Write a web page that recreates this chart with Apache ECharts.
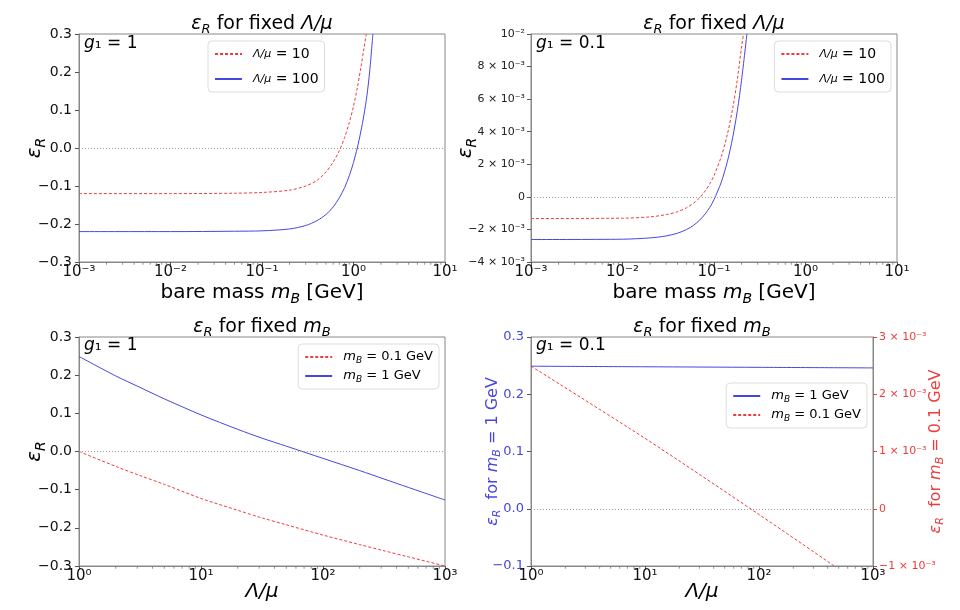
<!DOCTYPE html>
<html>
<head>
<meta charset="utf-8">
<script src="https://cdn.jsdelivr.net/npm/echarts@6/dist/echarts.min.js"></script>
<style>
  html, body { margin: 0; padding: 0; background: #fff; }
  #chart { width: 960px; height: 610px; }
</style>
</head>
<body>
<div id="chart"></div>
<script>
// top-left: g1 = 1, epsilon_R vs bare mass
var massRed1 = [0.001, 0.01, 0.05, 0.1, 0.2, 0.3, 0.4, 0.5, 0.6, 0.7, 0.8, 0.9, 1.0, 1.1, 1.2, 1.3, 1.38];
var epsRed1 = [-0.120, -0.120, -0.119, -0.117, -0.111, -0.100, -0.085, -0.063, -0.037, -0.007, 0.028, 0.067, 0.110, 0.158, 0.210, 0.262, 0.300];
var massBlue1 = [0.001, 0.01, 0.05, 0.1, 0.2, 0.3, 0.4, 0.5, 0.6, 0.7, 0.8, 0.9, 1.0, 1.1, 1.2, 1.3, 1.4, 1.5, 1.63];
var epsBlue1 = [-0.220, -0.220, -0.219, -0.218, -0.213, -0.204, -0.191, -0.175, -0.155, -0.131, -0.104, -0.073, -0.038, 0.000, 0.042, 0.087, 0.137, 0.200, 0.300];

// top-right: g1 = 0.1 (values in 1e-3)
var massRed2 = [0.001, 0.01, 0.02, 0.03, 0.04, 0.05, 0.06, 0.07, 0.08, 0.09, 0.1, 0.12, 0.14, 0.16, 0.18, 0.2, 0.21];
var epsRed2 = [-1.33, -1.31, -1.23, -1.09, -0.91, -0.67, -0.38, -0.04, 0.36, 0.81, 1.31, 2.47, 3.84, 5.43, 7.22, 9.2, 10.0];
var massBlue2 = [0.001, 0.01, 0.02, 0.03, 0.04, 0.05, 0.06, 0.07, 0.08, 0.09, 0.1, 0.12, 0.14, 0.16, 0.18, 0.2, 0.229];
var epsBlue2 = [-2.62, -2.60, -2.52, -2.40, -2.23, -2.01, -1.74, -1.42, -1.05, -0.64, -0.17, 0.90, 2.17, 3.64, 5.30, 7.16, 10.0];

// bottom-left: g1 = 1, epsilon_R vs Lambda/mu
var ratio3 = [1, 2, 3.16, 5, 10, 20, 31.6, 50, 100, 200, 316, 500, 1000];
var epsRed3 = [0.000, -0.039, -0.063, -0.086, -0.123, -0.154, -0.174, -0.192, -0.219, -0.244, -0.260, -0.276, -0.300];
var epsBlue3 = [0.249, 0.198, 0.168, 0.138, 0.096, 0.058, 0.035, 0.014, -0.018, -0.050, -0.072, -0.094, -0.127];

// bottom-right: g1 = 0.1 (red values in 1e-3)
var ratioBlue4 = [1, 10, 100, 1000];
var epsBlue4 = [0.249, 0.248, 0.247, 0.246];
var ratioRed4 = [1, 10, 100, 457];
var epsRed4 = [2.49, 1.23, -0.10, -1.00];

var FONT = 'DejaVu Sans';
var RED = '#ee3c3c';
var BLUE = '#4646e0';
var SUP = {'-': '⁻', '0': '⁰', '1': '¹', '2': '²', '3': '³'};

function zip(xs, ys, scale) {
    return xs.map(function(x, i){ return [x, ys[i] * (scale || 1)]; });
}

function powLabel(v) {
    var k = Math.round(Math.log10(v));
    return '10' + String(k).split('').map(function(c){ return SUP[c]; }).join('');
}

function decLabel(v) {
    return (Math.round(v * 10) / 10).toFixed(1).replace('-', '−');
}

function sciLabel(v) {
    var k = Math.round(v * 1000);
    if (k === 0) return '0';
    if (k === 10) return '10⁻²';
    return (k < 0 ? '−' : '') + Math.abs(k) + ' × 10⁻³';
}

function rich(size, color, lh) {
    color = color || '#000';
    return {
        i: {fontStyle: 'italic', fontSize: size, color: color, fill: color, fontFamily: FONT, lineHeight: lh || Math.round(size * 1.3), verticalAlign: 'middle'},
        f: {fontStyle: 'italic', fontSize: Math.round(size * 0.8), color: color, fill: color, fontFamily: FONT, lineHeight: lh || Math.round(size * 1.3), verticalAlign: 'middle'},
        s: {fontStyle: 'italic', fontSize: Math.round(size * 0.68), color: color, fill: color, fontFamily: FONT, lineHeight: Math.round(size * 0.7), verticalAlign: 'bottom'}
    };
}

// minor log ticks (2..9 per decade)
function minorTicks(lo, hi, y) {
    var out = [];
    for (var e = lo; e < hi; e++) {
        for (var m = 2; m <= 9; m++) out.push([m * Math.pow(10, e), y]);
    }
    return out;
}

function grid(left, top, width, height) {
    return {left: left, top: top, width: width, height: height, show: true, borderColor: '#888', borderWidth: 1, backgroundColor: 'transparent'};
}

var grids = [
    grid(79, 34, 366, 228),
    grid(531, 34, 366, 228),
    grid(79, 337, 366, 229),
    grid(531, 337, 342, 229)
];

function xLog(gi, min, max, name, nameGap) {
    return {
        type: 'log', gridIndex: gi, min: min, max: max, logBase: 10,
        name: name, nameLocation: 'middle', nameGap: nameGap, nameMoveOverlap: false,
        nameTextStyle: {fontFamily: FONT, fontSize: 20, color: '#000', rich: rich(20)},
        axisLine: {onZero: false, lineStyle: {color: '#888'}},
        axisTick: {length: 4, lineStyle: {color: '#555'}},
        axisLabel: {formatter: powLabel, fontFamily: FONT, fontSize: 15, color: '#111', margin: 3},
        splitLine: {show: false}
    };
}

function yLin(gi, min, max, interval, fmt, extra) {
    var ax = {
        type: 'value', gridIndex: gi, min: min, max: max, interval: interval,
        nameLocation: 'middle', nameRotate: 90, nameMoveOverlap: false,
        axisLine: {show: true, onZero: false, lineStyle: {color: '#888'}},
        axisTick: {show: true, length: 4, lineStyle: {color: '#555'}},
        axisLabel: {formatter: fmt, fontFamily: FONT, fontSize: 14, color: '#111', margin: 7},
        splitLine: {show: false}
    };
    for (var k in extra) ax[k] = extra[k];
    return ax;
}

var zeroLine = {
    silent: true, symbol: 'none', animation: false,
    label: {show: false},
    lineStyle: {type: [1, 2], color: '#999', width: 1},
    emphasis: {disabled: true},
    data: [{yAxis: 0}]
};

function lineSeries(name, xi, yi, data, color, dashed, mark) {
    var s = {
        name: name, type: 'line', xAxisIndex: xi, yAxisIndex: yi,
        data: data, showSymbol: false, symbol: 'none', smooth: 0.3,
        lineStyle: {color: color, width: 1, type: dashed ? [3, 2] : 'solid'},
        itemStyle: {color: color}
    };
    if (mark) s.markLine = zeroLine;
    return s;
}

function tickSeries(xi, yi, data) {
    return {
        type: 'scatter', xAxisIndex: xi, yAxisIndex: yi, data: data, silent: true, clip: false,
        symbol: 'rect', symbolSize: [1, 2.5], symbolOffset: [0, 1.5],
        itemStyle: {color: '#777'}, tooltip: {show: false}
    };
}

var legendNames = {
    r10a: '{f|Λ/μ} = 10', b100a: '{f|Λ/μ} = 100',
    r10b: '{f|Λ/μ} = 10', b100b: '{f|Λ/μ} = 100',
    r01c: '{i|m}{s|B} = 0.1 GeV', b1c: '{i|m}{s|B} = 1 GeV',
    b1d: '{i|m}{s|B} = 1 GeV', r01d: '{i|m}{s|B} = 0.1 GeV'
};

function legend(names, pos, gap, size) {
    var l = {
        data: names, orient: 'vertical',
        itemWidth: 27, itemHeight: 10, itemGap: gap,
        padding: [5, 6, 5, 6],
        backgroundColor: '#fff', borderColor: '#ddd', borderWidth: 1, borderRadius: 4,
        selectedMode: false,
        itemStyle: {opacity: 0, borderWidth: 0},
        formatter: function(n){ return legendNames[n]; },
        textStyle: {fontFamily: FONT, fontSize: size, color: '#000', lineHeight: 16, padding: [0, 0, 0, 6], rich: rich(size, '#000', 16)}
    };
    for (var k in pos) l[k] = pos[k];
    return l;
}

function gText(x, y, text, size, align) {
    return {
        type: 'text', x: x, y: y, silent: true,
        style: {text: text, fill: '#000', fontFamily: FONT, fontSize: size, align: align || 'center', verticalAlign: 'middle', rich: rich(size)}
    };
}

var option = {
    animation: false,
    backgroundColor: '#fff',
    textStyle: {fontFamily: FONT},
    grid: grids,
    xAxis: [
        xLog(0, 0.001, 10, 'bare mass {i|m}{s|B} [GeV]', 18),
        xLog(1, 0.001, 10, 'bare mass {i|m}{s|B} [GeV]', 18),
        xLog(2, 1, 1000, '{i|Λ/μ}', 13),
        xLog(3, 1, 1000, '{i|Λ/μ}', 13)
    ],
    yAxis: [
        yLin(0, -0.3, 0.3, 0.1, decLabel, {name: '{i|ε}{s|R}', nameGap: 31,
            nameTextStyle: {fontSize: 20, rich: rich(20)}}),
        yLin(1, -0.004, 0.01, 0.002, sciLabel, {name: '{i|ε}{s|R}', nameGap: 52,
            nameTextStyle: {fontSize: 20, rich: rich(20)},
            axisLabel: {formatter: sciLabel, fontFamily: FONT, fontSize: 11, color: '#222', margin: 6}}),
        yLin(2, -0.3, 0.3, 0.1, decLabel, {name: '{i|ε}{s|R}', nameGap: 31,
            nameTextStyle: {fontSize: 20, rich: rich(20)}}),
        yLin(3, -0.1, 0.3, 0.1, decLabel, {name: '{i|ε}{s|R}  for {i|m}{s|B} = 1 GeV', nameGap: 28,
            nameTextStyle: {fontSize: 16, color: BLUE, rich: rich(16, BLUE)},
            axisLabel: {formatter: decLabel, fontFamily: FONT, fontSize: 13, color: BLUE, margin: 7}}),
        yLin(3, -0.001, 0.003, 0.001, sciLabel, {position: 'right', name: '{i|ε}{s|R}  for {i|m}{s|B} = 0.1 GeV', nameGap: 52,
            nameTextStyle: {fontSize: 16, color: RED, rich: rich(16, RED)},
            axisTick: {show: true, length: 4, lineStyle: {color: RED}},
            axisLabel: {formatter: sciLabel, fontFamily: FONT, fontSize: 11, color: RED, margin: 6}})
    ],
    legend: [
        legend(['r10a', 'b100a'], {left: 208, top: 41}, 9, 14),
        legend(['r10b', 'b100b'], {right: 69, top: 41}, 9, 14),
        legend(['r01c', 'b1c'], {right: 521, top: 344}, 3, 13),
        legend(['b1d', 'r01d'], {right: 93, top: 383}, 3, 13)
    ],
    graphic: [
        gText(262, 24, '{i|ε}{s|R} for fixed {i|Λ/μ}', 19),
        gText(714, 24, '{i|ε}{s|R} for fixed {i|Λ/μ}', 19),
        gText(262, 327, '{i|ε}{s|R} for fixed {i|m}{s|B}', 19),
        gText(702, 327, '{i|ε}{s|R} for fixed {i|m}{s|B}', 19),
        gText(84, 44, '{i|g}₁ = 1', 17, 'left'),
        gText(536, 44, '{i|g}₁ = 0.1', 17, 'left'),
        gText(84, 346, '{i|g}₁ = 1', 17, 'left'),
        gText(536, 346, '{i|g}₁ = 0.1', 17, 'left')
    ],
    series: [
        lineSeries('r10a', 0, 0, zip(massRed1, epsRed1), RED, true, true),
        lineSeries('b100a', 0, 0, zip(massBlue1, epsBlue1), BLUE, false),
        lineSeries('r10b', 1, 1, zip(massRed2, epsRed2, 0.001), RED, true, true),
        lineSeries('b100b', 1, 1, zip(massBlue2, epsBlue2, 0.001), BLUE, false),
        lineSeries('r01c', 2, 2, zip(ratio3, epsRed3), RED, true, true),
        lineSeries('b1c', 2, 2, zip(ratio3, epsBlue3), BLUE, false),
        lineSeries('b1d', 3, 3, zip(ratioBlue4, epsBlue4), BLUE, false, true),
        lineSeries('r01d', 3, 4, zip(ratioRed4, epsRed4, 0.001), RED, true),
        tickSeries(0, 0, minorTicks(-3, 1, -0.3)),
        tickSeries(1, 1, minorTicks(-3, 1, -0.004)),
        tickSeries(2, 2, minorTicks(0, 3, -0.3)),
        tickSeries(3, 3, minorTicks(0, 3, -0.1))
    ]
};

var myChart = echarts.init(document.getElementById('chart'));
myChart.setOption(option);
</script>
</body>
</html>
